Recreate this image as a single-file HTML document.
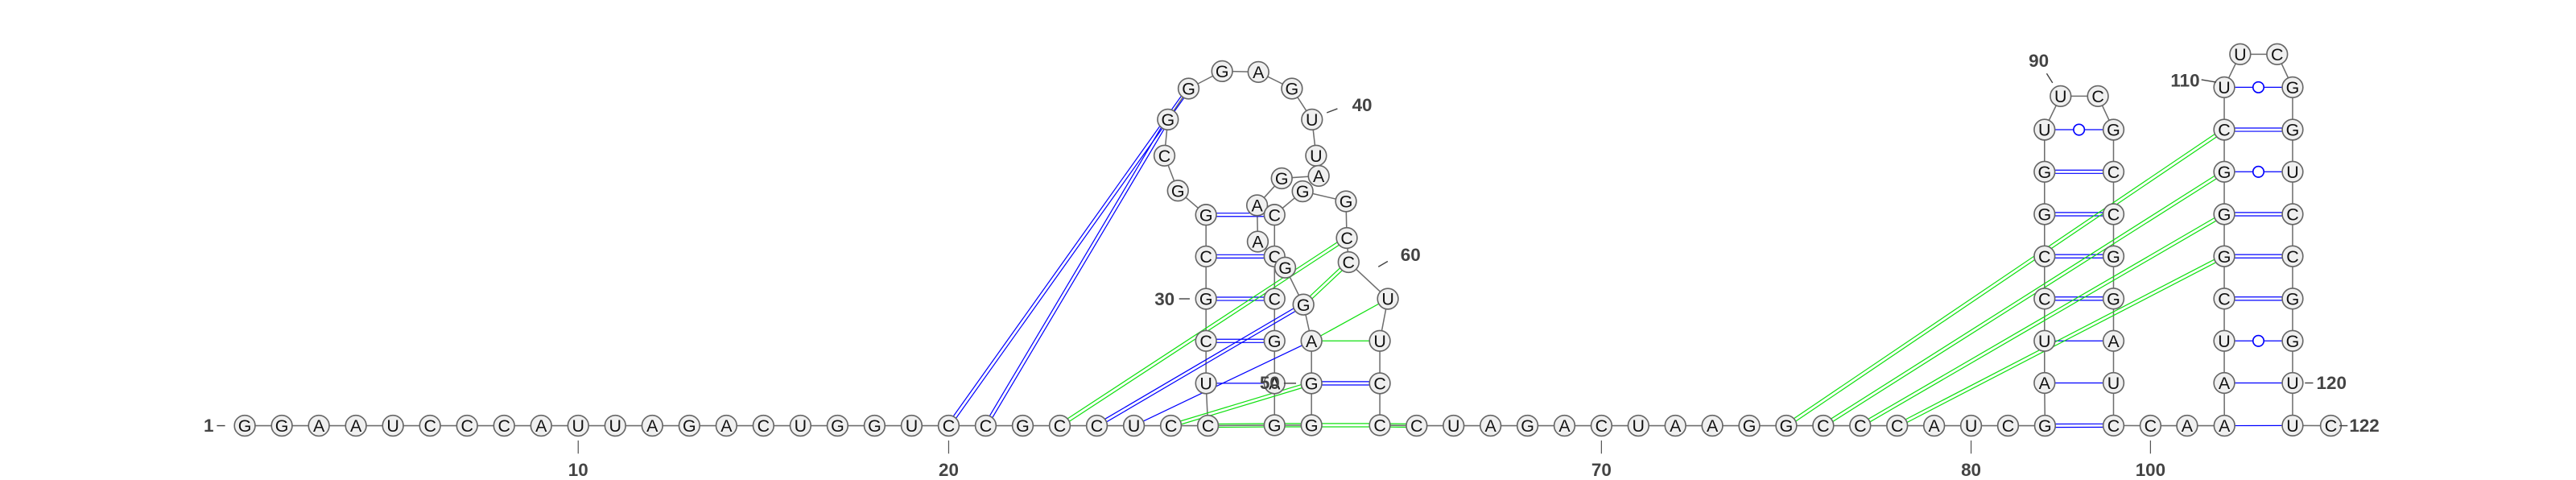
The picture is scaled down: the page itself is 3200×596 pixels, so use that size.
<!DOCTYPE html>
<html><head><meta charset="utf-8"><style>
html,body{margin:0;padding:0;background:#fff;}
svg{display:block;}
.nt{font-family:"Liberation Sans",sans-serif;font-size:10.5px;fill:#111;text-anchor:middle;dominant-baseline:central;}
.lbl{font-family:"Liberation Sans",sans-serif;font-size:11px;font-weight:bold;fill:#444;dominant-baseline:central;}
</style></head><body>
<svg id="chart" width="3200" height="596" viewBox="0 0 3200 596" xmlns="http://www.w3.org/2000/svg">
<rect width="3200" height="596" fill="#fff"/>
<g id="root" transform="scale(2.0408)"></g>
</svg>
<script>
// sequence 1..122, built segment by segment
const seqSegments = [
"GGAAUCCCAUUAGACUGGUCCGCCUCC", // 1-27
"UCGCG",                       // 28-32
"GCGGGAGUUA",                  // 33-42
"GAA",                         // 43-45
"CGGAGGGAGCCGGCCUUCC",         // 46-64
"CUAGACUAAGGCCCAUCG",          // 65-82
"AUCCGGU",                     // 83-89
"UC",                          // 90-91
"GCCGGAUC",                    // 92-99
"CAA",                         // 100-102
"AUCGGGCU",                    // 103-110
"UC",                          // 111-112
"GGUCCGGUU",                   // 113-121
"C"                            // 122
];
const sequence = seqSegments.join("");
const BASE_Y = 259;
function P(x,y){return [x,y];}
const layout = [];
for(let i=1;i<=27;i++) layout[i]=P(149+(i-1)*22.55,BASE_Y);
const central = {
28:[734.1,233.2],29:[734.1,207.4],30:[734.1,181.8],31:[734.1,156],32:[734.1,130.7],
33:[717,116],34:[708.8,94.7],35:[710.9,72.7],36:[723.5,53.9],37:[743.9,43.3],38:[766,43.8],
39:[786.4,53.9],40:[798.6,72.7],41:[801.1,94.7],42:[802.7,107],
43:[780.2,108.5],44:[765.2,124.9],45:[765.6,147],46:[775.8,156],47:[782.3,162.8],48:[793.4,185.3],
49:[798.3,207.4],50:[798.3,233.2],51:[798.3,258.7],52:[775.8,258.7],53:[775.8,233.2],54:[775.8,207.4],
55:[775.8,181.8],56:[775.8,130.7],57:[792.9,116.4],58:[819.3,122.5],59:[819.8,144.8],60:[820.9,159.5],
61:[844.8,181.8],62:[839.9,207.4],63:[839.9,233.2],64:[839.9,258.7]};
for(const k in central) layout[+k]=central[k];
for(let i=65;i<=82;i++) layout[i]=P(862.3+(i-65)*22.5,BASE_Y);
const rows=[258.9,233,207.4,181.7,155.9,130.3,104.5,78.9,53.1];
for(let j=1;j<=7;j++) layout[82+j]=P(1244.5,rows[j]);
layout[90]=P(1254.3,58.5); layout[91]=P(1277,58.5);
for(let j=0;j<8;j++) layout[92+j]=P(1286.5,rows[7-j]);
layout[100]=P(1309,BASE_Y); layout[101]=P(1331.3,BASE_Y); layout[102]=P(1354,BASE_Y);
for(let j=1;j<=8;j++) layout[102+j]=P(1353.9,rows[j]);
layout[111]=P(1363.6,33); layout[112]=P(1386.1,33);
for(let j=0;j<9;j++) layout[113+j]=P(1395.5,rows[8-j]);
layout[122]=P(1418.8,BASE_Y);

const pairs = [
[28,53,"bs"],[29,54,"bd"],[30,55,"bd"],[31,46,"bd"],[32,56,"bd"],
[50,63,"bd"],[49,62,"gs"],[49,61,"gs"],
[20,36,"bd"],[21,35,"bd"],[23,59,"gd"],[24,48,"bd"],[25,49,"bs"],[26,50,"gd"],[60,48,"gd"],
[27,52,"gd"],[52,51,"gd"],[51,64,"gd"],[64,65,"gd"],
[82,99,"bd"],[83,98,"bs"],[84,97,"bs"],[85,96,"bd"],[86,95,"bd"],[87,94,"bd"],[88,93,"bd"],[89,92,"bc"],
[102,121,"bs"],[103,120,"bs"],[104,119,"bc"],[105,118,"bd"],[106,117,"bd"],[107,116,"bd"],[108,115,"bc"],[109,114,"bd"],[110,113,"bc"],
[75,109,"gd"],[76,108,"gd"],[77,107,"gd"],[78,106,"gd"]];
const extraBackbone = [[27,52],[56,46],[46,55]];
const tickIdx = [10,20,70,80,100];

const NS="http://www.w3.org/2000/svg";
const root=document.getElementById('root');
function mk(tag,attrs,parent){const e=document.createElementNS(NS,tag);for(const k in attrs)e.setAttribute(k,attrs[k]);(parent||root).appendChild(e);return e;}
function line(a,b,col,w,name,parent){
  const e=mk('line',{x1:a[0],y1:a[1],x2:b[0],y2:b[1],stroke:col,'stroke-width':w},parent);
  
  
  return e;}
const gBack=mk('g',{});


const gPairs=mk('g',{});


for(let i=1;i<122;i++) line(layout[i],layout[i+1],'#6e6e6e',0.75,'backbone-segment',gBack);
extraBackbone.forEach(p=>line(layout[p[0]],layout[p[1]],'#6e6e6e',0.75,'backbone-segment',gBack));
pairs.forEach(([i,j,t])=>{
  const a=layout[i],b=layout[j];const col=t[0]==='b'?'#0000ff':'#11e011';
  const dx=b[0]-a[0],dy=b[1]-a[1],L=Math.hypot(dx,dy)||1;const nx=-dy/L,ny=dx/L;
  if(t[1]==='d'){
    const o=1.0;
    line([a[0]+nx*o,a[1]+ny*o],[b[0]+nx*o,b[1]+ny*o],col,0.6,'pair-line-'+i+'-'+j,gPairs);
    line([a[0]-nx*o,a[1]-ny*o],[b[0]-nx*o,b[1]-ny*o],col,0.6,'pair-line-'+i+'-'+j,gPairs);
  } else {
    line(a,b,col,0.6,'pair-line-'+i+'-'+j,gPairs);
    if(t[1]==='c'){
      const c=mk('circle',{cx:(a[0]+b[0])/2,cy:(a[1]+b[1])/2,r:3.3,fill:'#fff',stroke:'#0000ff','stroke-width':0.8},gPairs);
      
      
    }
  }
});
const gNt=mk('g',{});


for(let i=1;i<=122;i++){
  const [x,y]=layout[i];
  const g=mk('g',{},gNt);
  
  
  mk('circle',{cx:x,cy:y,r:6.3,fill:'#f0f0f0',stroke:'#666','stroke-width':0.8},g);
  const t=mk('text',{x:x,y:y+0.3,class:'nt'},g);t.textContent=sequence[i-1]||'';
}
tickIdx.forEach(i=>{
  const x=layout[i][0];
  line([x,268],[x,276],'#555',0.6,'tick-mark');
  const t=mk('text',{x:x,y:286,class:'lbl','text-anchor':'middle'});
  
  
  t.textContent=String(i);
});
const sideLabels=[
["1",127,259,"middle",132,259,137,259],
["122",1430,259,"start",1424,259,1429,259],
["120",1410,233,"start",1403,233,1408,233],
["110",1339,49,"end",1340,48.5,1349,50],
["90",1241,37,"middle",1245.8,44.7,1249.4,50.4],
["40",823,64,"start",807.6,68.6,814.1,66.1],
["60",852.5,155,"start",839,162.3,844.7,159],
["30",715,182,"end",717.7,181.8,724.2,181.8],
["50",779,233,"end",781.5,233.2,788.9,233.2]];
sideLabels.forEach(l=>{
  line([l[4],l[5]],[l[6],l[7]],'#444',0.7,'label-tick');
  const t=mk('text',{x:l[1],y:l[2],class:'lbl','text-anchor':l[3]});
  
  
  t.textContent=l[0];
});
</script>
</body></html>
